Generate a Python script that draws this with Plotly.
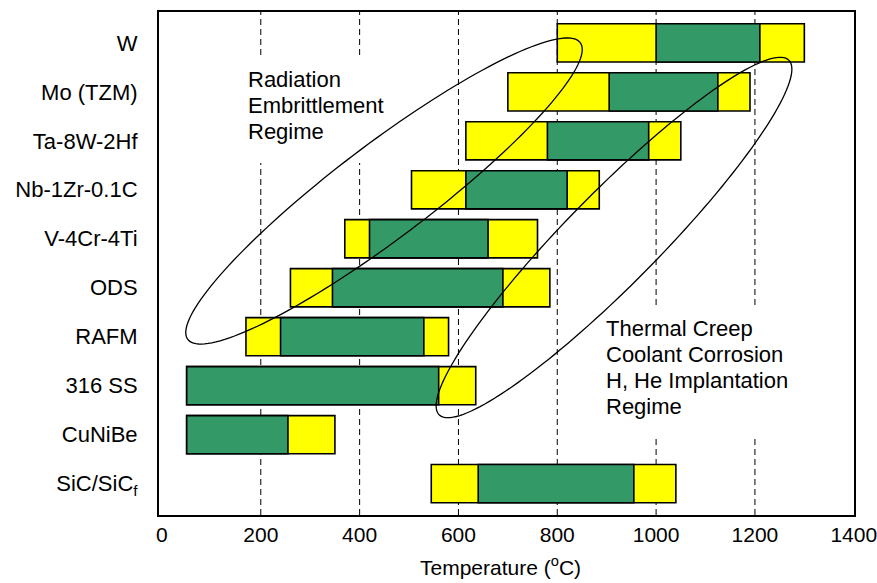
import numpy as np
import plotly.graph_objects as go

materials = ["W", "Mo (TZM)", "Ta-8W-2Hf", "Nb-1Zr-0.1C", "V-4Cr-4Ti", "ODS",
             "RAFM", "316 SS", "CuNiBe", "SiC/SiC<sub>f</sub>"]
full_low = [800, 700, 615, 505, 370, 260, 170, 50, 50, 545]
full_high = [1300, 1190, 1050, 885, 760, 785, 580, 635, 350, 1040]
core_low = [1000, 905, 780, 615, 420, 345, 240, 50, 50, 640]
core_high = [1210, 1125, 985, 820, 660, 690, 530, 560, 255, 955]
x_ticks = [0, 200, 400, 600, 800, 1000, 1200, 1400]
grid_vals = [200, 400, 600, 800, 1000, 1200]

rad_lines = ["Radiation", "Embrittlement", "Regime"]
therm_lines = ["Thermal Creep", "Coolant Corrosion", "H, He Implantation", "Regime"]
x_title = "Temperature (<sup>o</sup>C)"

YELLOW = "#FFFF00"
GREEN = "#339966"
FONT = "Arial, Liberation Sans, sans-serif"

W, H = 877, 583
L, R, T, B = 159, 23, 12, 68
PW, PH = W - L - R, H - T - B

fig = go.Figure()
fig.add_trace(go.Bar(
    y=materials, base=full_low,
    x=[h - l for l, h in zip(full_low, full_high)],
    orientation="h", width=0.78,
    marker=dict(color=YELLOW, line=dict(color="black", width=1.6)),
    hoverinfo="skip", showlegend=False))
fig.add_trace(go.Bar(
    y=materials, base=core_low,
    x=[h - l for l, h in zip(core_low, core_high)],
    orientation="h", width=0.78,
    marker=dict(color=GREEN, line=dict(color="black", width=1.6)),
    hoverinfo="skip", showlegend=False))


def px2paper_x(X):
    return (X - L) / PW


def px2paper_y(Y):
    return (T + PH - Y) / PH


def ellipse_path(cx, cy, a, b, theta_deg, n=160):
    t = np.linspace(0, 2 * np.pi, n)
    th = np.radians(theta_deg)
    X = cx + a * np.cos(t) * np.cos(th) - b * np.sin(t) * np.sin(th)
    Y = cy - (a * np.cos(t) * np.sin(th) + b * np.sin(t) * np.cos(th))
    pts = [f"{px2paper_x(x):.5f},{px2paper_y(y):.5f}" for x, y in zip(X, Y)]
    return "M " + " L ".join(pts) + " Z"


def pbox(x0, y0, x1, y1):
    return dict(type="rect", xref="paper", yref="paper",
                x0=px2paper_x(x0), x1=px2paper_x(x1),
                y0=px2paper_y(y1), y1=px2paper_y(y0),
                fillcolor="white", line=dict(width=0), layer="between")


shapes = []
for g in grid_vals:
    shapes.append(dict(type="line", xref="x", yref="paper", x0=g, x1=g, y0=0, y1=1,
                       line=dict(color="black", width=1, dash="6px,4px"), layer="below"))
shapes += [
    pbox(235, 57, 420, 163),
    pbox(598, 307, 850, 438),
    dict(type="path", xref="paper", yref="paper",
         path=ellipse_path(384, 191, 246, 47, 37.1),
         line=dict(color="black", width=1.3), layer="above"),
    dict(type="path", xref="paper", yref="paper",
         path=ellipse_path(614, 237.5, 249, 46, 45.4),
         line=dict(color="black", width=1.3), layer="above"),
]

annotations = []
for i, line in enumerate(rad_lines):
    annotations.append(dict(
        xref="paper", yref="paper", x=px2paper_x(246), y=px2paper_y(79 + 26 * i),
        xanchor="left", yanchor="middle", showarrow=False, text=line,
        font=dict(family=FONT, size=22, color="black")))
for i, line in enumerate(therm_lines):
    annotations.append(dict(
        xref="paper", yref="paper", x=px2paper_x(604), y=px2paper_y(328 + 26.3 * i),
        xanchor="left", yanchor="middle", showarrow=False, text=line,
        font=dict(family=FONT, size=22, color="black")))
annotations.append(dict(
    xref="paper", yref="paper", x=px2paper_x(500), y=px2paper_y(566),
    xanchor="center", yanchor="middle", showarrow=False, text=x_title,
    font=dict(family=FONT, size=21, color="black")))

fig.update_layout(
    width=W, height=H,
    margin=dict(l=L, r=R, t=T, b=B, autoexpand=False),
    paper_bgcolor="white", plot_bgcolor="white",
    barmode="overlay",
    shapes=shapes, annotations=annotations,
    font=dict(family=FONT, size=20, color="black"),
    xaxis=dict(
        range=[-6, 1400.5], tickvals=x_ticks, ticktext=[str(v) for v in x_ticks],
        showgrid=False, automargin=False, ticklabeloverflow="allow",
        zeroline=False, showline=True, linecolor="black", linewidth=2, mirror=True,
        ticks="", tickfont=dict(family=FONT, size=21),
    ),
    yaxis=dict(
        type="category", categoryorder="array", categoryarray=materials,
        range=[9.64, -0.63], showgrid=False, zeroline=False, automargin=False,
        showline=True, linecolor="black", linewidth=2, mirror=True,
        ticks="", ticklabelstandoff=15, tickfont=dict(family=FONT, size=22),
    ),
)

fig.write_html("out.html",
               config={"displayModeBar": False},
               post_script="document.body.style.margin='0px';document.body.style.padding='0px';")
